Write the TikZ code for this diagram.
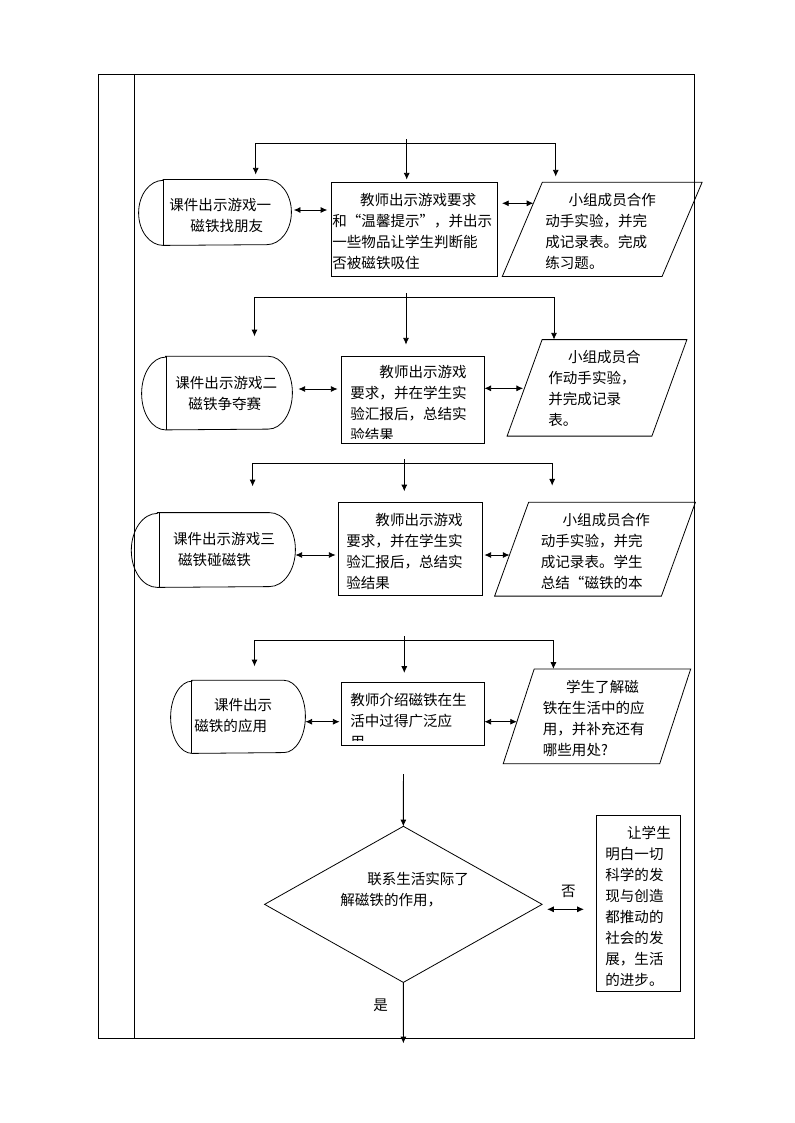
\documentclass[tikz,border=0pt]{standalone}
\usepackage{fontspec}
\setmainfont{Noto Sans CJK SC}
\newfontfamily\fwfont[RawFeature=+fwid]{Noto Sans CJK SC}
\usetikzlibrary{arrows.meta,fit,calc}
\newcommand\termshape[5]{% name, rx, ry, inner x (px)
  \draw ([xshift=#2]#1.north west) -- ([xshift=-#2]#1.north east)
    arc[start angle=90,end angle=-90,x radius=#2,y radius=#3]
    -- ([xshift=#2]#1.south west)
    arc[start angle=270,end angle=90,x radius=#2,y radius=#3] -- cycle;
  \draw (#1.north -| #4,0) -- (#1.south -| #4,0);}
\newcommand\paragram[2]{%
  \draw ([xshift=#2]#1.north west) -- (#1.north east) -- ([xshift=-#2]#1.south east) -- (#1.south west) -- cycle;}
\newcommand\fwlq{{\fwfont “}}
\newcommand\fwrq{{\fwfont ”}}
\begin{document}
\begin{tikzpicture}[x=0.75pt,y=-0.75pt,
  line width=0.6pt,
  box/.style={draw, inner sep=0pt},
  ghost/.style={inner sep=0pt},
  txt/.style={anchor=north west, inner sep=0pt, align=left, font=\fontsize{10.9}{15.75}\selectfont},
  lbl/.style={inner sep=0pt, font=\fontsize{10.9}{13}\selectfont},
  arr/.style={-{Latex[length=5pt,width=4.5pt]}},
  darr/.style={{Latex[length=5pt,width=4.5pt]}-{Latex[length=5pt,width=4.5pt]}},
]
\useasboundingbox (0,0) rectangle (794,1123);

% frame
\draw (98.3,74) rectangle (694,1038.5);
\draw (134.3,74) -- (134.3,1038.5);

% ---------- row 1 ----------
\node[ghost, fit={(139,180)(291,245)}] (s1) {};
\termshape{s1}{18.4pt}{24.4pt}{163}{}
\node[box, fit={(331,182)(497,276)}] (r1) {};
\node[ghost, fit={(502.7,182.7)(701.7,276)}] (p1) {};
\paragram{p1}{30pt}
\node[txt] (ts1) at (169,197.5) {课件出示游戏一\\\hspace*{1.45em}磁铁找朋友};
\node[txt] (tr1) at (332,192.5) {\hspace*{1.9em}教师出示游戏要求\\和\fwlq 温馨提示\fwrq ，并出示\\一些物品让学生判断能\\否被磁铁吸住};
\node[txt] (tp1) at (545,192.5) {\hspace*{1.6em}小组成员合作\\动手实验，并完\\成记录表。完成\\练习题。};
\coordinate (h1) at (406.7,139.3);
\coordinate (h1l) at (255.7,143.3);
\coordinate (h1r) at (555.7,143.3);
\draw (h1l) -- (h1r);
\draw[arr, shorten >=3.75pt] (h1l) -- (h1l |- s1.north);
\draw[arr, shorten >=1.5pt] (h1) -- (h1 |- r1.north);
\draw[arr, shorten >=4.3pt] (h1r) -- (h1r |- p1.north);
\coordinate (y1a) at (0,210);
\coordinate (p1e) at ($([xshift=30pt]p1.north west)!0.223!(p1.south west)$);
\draw[darr, shorten <=1.8pt, shorten >=2.5pt] (s1.east |- y1a) -- (r1.west |- y1a);
\draw[darr, shorten <=3.5pt] (r1.east |- p1e) -- (p1e);

% ---------- row 2 ----------
\node[ghost, fit={(142,356.7)(292,429.5)}] (s2) {};
\termshape{s2}{18pt}{27.3pt}{166.7}{}
\node[box, fit={(341,356)(484,443)}] (r2) {};
\node[ghost, fit={(507.5,340)(686.5,435.7)}] (p2) {};
\paragram{p2}{26.25pt}
\node[txt] (ts2) at (175,375.5) {课件出示游戏二\\\hspace*{0.9em}磁铁争夺赛};
\begin{scope}
\clip ([shift={(0.5pt,-0.5pt)}]r2.north west) rectangle ([shift={(-0.5pt,3.6pt)}]r2.south east);
\node[txt] (tr2) at (350,364.5) {\hspace*{2em}教师出示游戏\\要求，并在学生实\\验汇报后，总结实\\验结果};
\end{scope}
\node[txt] (tp2) at (548,349.5) {\hspace*{1.35em}小组成员合\\作动手实验，\\并完成记录\\表。};
\coordinate (h2) at (406,293.3);
\coordinate (h2l) at (254.5,297.3);
\coordinate (h2r) at (554,297.3);
\draw (h2l) -- (h2r);
\draw[arr, shorten >=15pt] (h2l) -- (h2l |- s2.north);
\draw[arr, shorten >=8.25pt] (h2) -- (h2 |- r2.north);
\draw[arr] (h2r) -- (h2r |- p2.north);
\coordinate (y2a) at (0,389);
\coordinate (p2e) at ($([xshift=26.25pt]p2.north west)!0.505!(p2.south west)$);
\draw[darr, shorten <=4.5pt, shorten >=2.25pt] (s2.east |- y2a) -- (r2.west |- y2a);
\draw[darr, shorten >=1pt] (r2.east |- p2e) -- (p2e);

% ---------- row 3 ----------
\node[ghost, fit={(131.7,513)(295,587)}] (s3) {};
\termshape{s3}{19.5pt}{27.75pt}{159.3}{}
\node[box, fit={(338,502.7)(482,595.7)}] (r3) {};
\node[ghost, fit={(495,502.7)(695,595.7)}] (p3) {};
\paragram{p3}{25.5pt}
\node[txt] (ts3) at (172.7,531.5) {课件出示游戏三\\\hspace*{0.35em}磁铁碰磁铁};
\node[txt] (tr3) at (346,512.5) {\hspace*{2em}教师出示游戏\\要求，并在学生实\\验汇报后，总结实\\验结果};
\node[txt] (tp3) at (540.5,512.5) {\hspace*{1.5em}小组成员合作\\动手实验，并完\\成记录表。学生\\总结\fwlq 磁铁的本};
\coordinate (h3) at (404.3,459.3);
\coordinate (h3l) at (252.6,463.3);
\coordinate (h3r) at (552.2,463.3);
\draw (h3l) -- (h3r);
\draw[arr, shorten >=19.7pt] (h3l) -- (h3l |- s3.north);
\draw[arr, shorten >=8.25pt] (h3) -- (h3 |- r3.north);
\draw[arr, shorten >=12.5pt] (h3r) -- (h3r |- p3.north);
\coordinate (y3a) at (0,555);
\coordinate (p3e) at ($([xshift=25.5pt]p3.north west)!0.562!(p3.south west)$);
\draw[darr, shorten >=1.5pt] (s3.east |- y3a) -- (r3.west |- y3a);
\draw[darr, shorten <=1.5pt] (r3.east |- p3e) -- (p3e);

% ---------- row 4 ----------
\node[ghost, fit={(171,680.7)(305,753)}] (s4) {};
\termshape{s4}{16.1pt}{27.1pt}{191}{}
\node[box, fit={(341,682.3)(484,745)}] (r4) {};
\node[ghost, fit={(503.6,669.3)(690.3,763.3)}] (p4) {};
\paragram{p4}{23.25pt}
\node[txt] (ts4) at (194,697.5) {\hspace*{1.35em}课件出示\\磁铁的应用};
\begin{scope}
\clip ([shift={(0.5pt,-0.5pt)}]r4.north west) rectangle ([shift={(-0.5pt,3.6pt)}]r4.south east);
\node[txt] (tr4) at (350,692.5) {教师介绍磁铁在生\\活中过得广泛应\\用};
\end{scope}
\node[txt] (tp4) at (542.5,679.5) {\hspace*{1.6em}学生了解磁\\铁在生活中的应\\用，并补充还有\\哪些用处?};
\coordinate (h4) at (404.3,636);
\coordinate (h4l) at (254.5,640);
\coordinate (h4r) at (553.4,640);
\draw (h4l) -- (h4r);
\draw[arr, shorten >=10.5pt] (h4l) -- (h4l |- s4.north);
\draw[arr, shorten >=6.75pt] (h4) -- (h4 |- r4.north);
\draw[arr] (h4r) -- (h4r |- p4.north);
\coordinate (y4a) at (0,721.7);
\coordinate (p4e) at ($([xshift=23.25pt]p4.north west)!0.557!(p4.south west)$);
\draw[darr, shorten >=0.75pt] (s4.east |- y4a) -- (r4.west |- y4a);
\draw[darr] (r4.east |- p4e) -- (p4e);

% ---------- row 5 ----------
\node[ghost, fit={(265,826.7)(541.7,982)}] (d) {};
\draw (d.north) -- (d.east) -- (d.south) -- (d.west) -- cycle;
\node[box, fit={(596.7,815)(680,991.7)}] (b) {};
\node[txt] (td) at (340,871.5) {\hspace*{1.85em}联系生活实际了\\解磁铁的作用，};
\node[txt] (tb) at (605,825.5) {\hspace*{1.5em}让学生\\明白一切\\科学的发\\现与创造\\都推动的\\社会的发\\展，生活\\的进步。};
\coordinate (top5) at (403.4,774);
\coordinate (end5) at (403.4,1043.3);
\coordinate (y5a) at (0,909.3);
\draw[arr] (top5) -- (d.north);
\draw[darr, shorten <=3.75pt, shorten >=9.3pt] (d.east |- y5a) -- (b.west |- y5a);
\draw[arr] (d.south) -- (end5);
\node[lbl] (no) at (568.3,891.7) {否};
\node[lbl] (yes) at (380.7,1005) {是};
\end{tikzpicture}
\end{document}
